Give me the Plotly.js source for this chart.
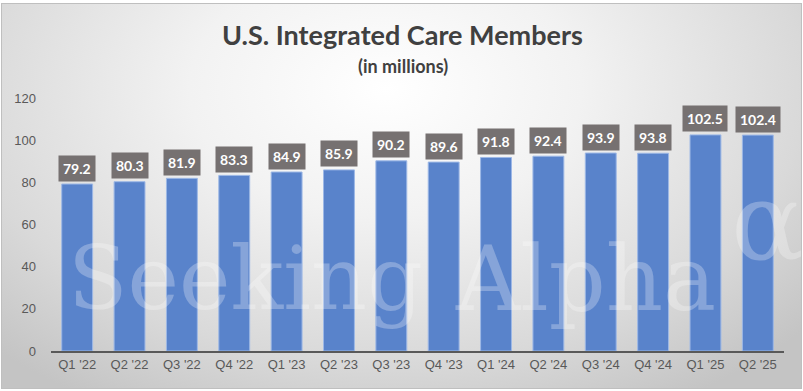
<!DOCTYPE html>
<html><head><meta charset="utf-8">
<script src="https://cdn.plot.ly/plotly-3.0.1.min.js"></script>
<style>
html,body{margin:0;padding:0;background:#fff;}
#wrap{position:absolute;left:0;top:0;width:803px;height:391px;background:#fff;}
#chart{position:absolute;left:1px;top:3px;width:801px;height:386px;
background:radial-gradient(ellipse 70% 95% at 48% 22%, #ffffff 0%, #f2f2f2 35%, #d9d9d9 75%, #c4c4c4 100%);
border:1px solid #bfbfbf;box-sizing:border-box;}
</style></head>
<body><div id="wrap"><div id="chart"></div></div>
<script>
var categories = ["Q1 '22","Q2 '22","Q3 '22","Q4 '22","Q1 '23","Q2 '23","Q3 '23","Q4 '23","Q1 '24","Q2 '24","Q3 '24","Q4 '24","Q1 '25","Q2 '25"];
var members = [79.2,80.3,81.9,83.3,84.9,85.9,90.2,89.6,91.8,92.4,93.9,93.8,102.5,102.4];
var yTicks = [0,20,40,60,80,100,120];

var trace = {
  type:'bar', x:categories, y:members,
  marker:{color:'#5983CB', line:{color:'#9db8e6', width:1}},
  width:0.59, hoverinfo:'skip'
};
var annotations = members.map(function(v,i){
  return {x:categories[i], y:v, xref:'x', yref:'y', text:'<b>'+v.toFixed(1)+'</b>',
    showarrow:false, yshift:16, bgcolor:'#767171', borderpad:4,
    font:{family:'Lato, Calibri, sans-serif', size:14, color:'#ffffff'}};
});
var wm = 'rgba(255,255,255,0.27)';
annotations.push({xref:'paper', yref:'paper', x:0.02, y:0.285, xanchor:'left', yanchor:'middle', text:'Seeking',
  showarrow:false, font:{family:'DejaVu Serif, serif', size:87, color:wm}});
annotations.push({xref:'paper', yref:'paper', x:0.548, y:0.285, xanchor:'left', yanchor:'middle', text:'Alpha',
  showarrow:false, font:{family:'DejaVu Serif, serif', size:89, color:wm}});
annotations.push({xref:'paper', yref:'paper', x:0.925, y:0.51, xanchor:'left', yanchor:'middle', text:'α',
  showarrow:false, font:{family:'DejaVu Serif, serif', size:108, color:wm}});
annotations.push({xref:'paper', yref:'paper', x:0.48, y:1, yanchor:'middle', yshift:64, text:'<b>U.S. Integrated Care Members</b>',
  showarrow:false, font:{family:'Lato, sans-serif', size:27, color:'#404040'}});
annotations.push({xref:'paper', yref:'paper', x:0.48, y:1, yanchor:'middle', yshift:32, text:'<b>(in millions)</b>',
  showarrow:false, font:{family:'Lato, sans-serif', size:18, color:'#404040'}});

var layout = {
  width:801, height:386,
  margin:{l:49, r:19, t:94, b:39},
  paper_bgcolor:'rgba(0,0,0,0)', plot_bgcolor:'rgba(0,0,0,0)',
  showlegend:false, bargap:0.41,
  xaxis:{type:'category', showgrid:false, zeroline:false, showline:true, linecolor:'#595959', linewidth:2,
    ticks:'', tickfont:{family:'Liberation Sans, Arial, sans-serif', size:13, color:'#595959'}},
  yaxis:{range:[0,120], tickvals:yTicks, showgrid:false, zeroline:false, showline:false, ticks:'',
    ticklabelstandoff:14,
    tickfont:{family:'Liberation Sans, Arial, sans-serif', size:13, color:'#595959'}},
  annotations:annotations
};
Plotly.newPlot('chart',[trace],layout,{displayModeBar:false, staticPlot:true});
</script></body></html>
